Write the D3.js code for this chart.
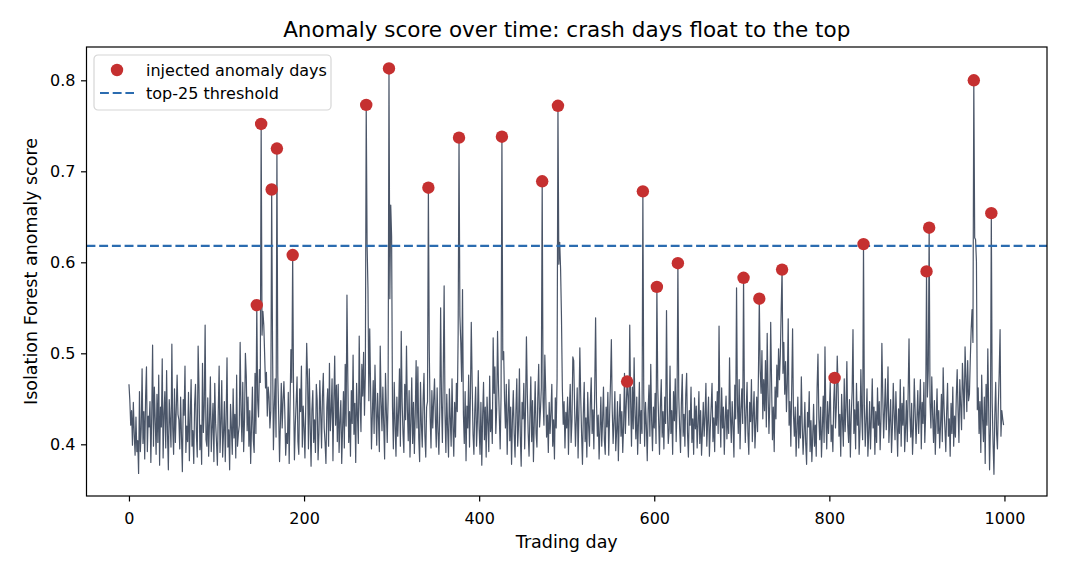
<!DOCTYPE html>
<html>
<head>
<meta charset="utf-8">
<script src="https://cdn.jsdelivr.net/npm/d3@7"></script>
<style>
  body { margin: 0; background: #fff; }
  svg text { font-family: "DejaVu Sans", sans-serif; fill: #000; }
</style>
</head>
<body>
<div id="chart"></div>
<script>
const WIDTH = 1066;
const HEIGHT = 572;

// plot box, in pixels
const LEFT = 86.5, RIGHT = 1047, TOP = 47, BOTTOM = 496;

const TITLE = "Anomaly score over time: crash days float to the top";
const X_LABEL = "Trading day";
const Y_LABEL = "Isolation Forest anomaly score";

const X_TICKS = [0, 200, 400, 600, 800, 1000];
const Y_TICKS = [0.4, 0.5, 0.6, 0.7, 0.8];

const THRESHOLD = 0.618;

// score per trading day (x1000), days 0..999
const scores = [
  466,448,421,437,399,446,412,388,430,392,404,368,458,392,417,483,401,436,384,452,485,392,431,419,447,380,432,509,398,463,427,389,455,402,476,377,441,419,494,385,433,458,396,481,412,372,449,426,397,510,
  418,389,461,402,437,476,433,427,395,452,408,370,449,432,486,391,420,403,457,382,429,471,398,415,379,444,466,411,386,508,462,394,421,378,489,413,442,531,405,398,451,387,426,474,392,418,445,381,467,423,
  402,377,436,486,391,423,470,386,412,447,381,428,495,397,416,372,444,419,389,461,407,433,385,476,398,412,421,512,436,403,468,392,427,500,475,415,452,398,437,379,420,463,405,391,478,412,553,448,430,482,
  468,752,520,546,531,498,462,479,431,463,452,418,437,680,505,394,441,472,408,725,476,433,381,425,467,418,449,469,436,388,412,401,457,379,443,504,468,608,458,383,421,447,474,403,389,461,436,486,397,442,
  418,385,447,511,472,395,483,421,376,438,459,402,427,391,466,448,383,412,470,434,396,453,478,418,402,379,441,461,398,489,415,436,472,382,447,497,421,465,403,466,391,426,448,379,417,458,396,488,420,564,
  471,402,436,387,459,423,498,411,445,380,467,432,401,519,446,414,488,453,501,432,477,773,619,571,448,527,462,395,433,470,412,487,441,399,456,428,392,508,447,415,463,421,384,478,437,402,451,813,560,663,
  628,441,395,468,421,387,452,409,436,483,398,524,447,412,391,466,427,508,438,404,459,386,425,473,401,446,390,433,492,418,485,407,381,468,422,397,449,478,410,386,441,447,682,505,431,396,459,418,447,472,
  428,397,462,414,389,437,550,446,402,478,574,433,391,455,417,386,461,429,398,472,421,387,446,408,467,436,522,737,541,512,469,570,433,401,458,382,442,418,476,397,452,534,468,411,389,437,463,398,425,481,
  417,389,446,377,432,468,405,441,386,452,423,392,475,414,438,401,517,456,485,412,438,524,467,431,395,452,738,493,502,447,418,466,389,432,471,404,441,378,427,459,412,386,437,472,398,421,483,409,376,446,
  428,467,395,441,518,456,412,387,432,474,403,448,381,426,469,412,397,452,488,419,437,462,689,448,421,498,459,408,432,391,446,412,435,466,398,427,384,451,418,472,772,598,622,593,541,463,422,447,396,435,
  418,452,389,437,466,402,425,496,492,441,398,427,462,385,439,506,452,411,378,434,468,403,429,386,457,421,398,445,473,412,438,395,461,539,447,409,432,384,416,452,398,427,463,405,389,441,419,457,388,432,
  467,515,438,401,426,458,393,414,447,382,428,455,409,436,391,421,478,412,443,469,452,421,531,447,398,463,417,495,433,406,452,389,425,468,401,437,412,678,455,398,446,421,382,437,465,409,488,426,393,441,
  418,456,401,573,462,427,389,441,471,408,436,395,452,423,547,438,401,417,486,412,437,389,458,426,472,403,441,599,452,418,391,446,477,409,433,398,455,478,412,386,437,421,463,402,428,389,451,417,442,396,
  423,458,401,437,388,414,446,409,431,467,398,425,452,387,418,441,467,403,429,392,447,421,458,412,530,436,397,462,418,441,389,427,453,406,438,412,495,431,402,447,419,386,465,428,572,443,412,471,395,438,
  461,423,583,447,402,437,468,412,389,446,425,471,403,433,458,396,421,452,414,478,560,481,456,503,428,471,437,492,419,522,456,412,447,534,468,405,441,392,463,428,487,452,505,471,498,548,592,478,512,455,
  491,436,468,538,421,447,398,462,527,433,409,441,387,418,452,396,431,407,474,423,389,412,446,401,378,435,419,458,392,426,381,409,444,398,421,387,462,499,428,405,441,386,418,453,402,507,431,395,447,412,
  436,468,403,421,392,447,473,418,441,497,462,409,433,387,455,426,398,472,414,439,491,421,402,449,386,431,458,526,412,438,395,467,421,447,389,416,482,431,405,620,443,398,426,461,387,412,447,395,429,472,
  418,441,389,436,402,462,421,447,394,428,511,453,407,438,472,416,441,485,402,426,449,391,418,467,434,405,458,422,387,439,412,471,398,445,421,463,392,417,448,403,456,516,431,408,445,389,418,472,436,401,
  427,459,412,438,471,395,446,423,468,402,433,590,452,481,638,446,418,474,431,402,448,389,426,461,412,437,396,421,455,403,484,441,418,392,436,467,409,428,387,445,412,463,398,431,408,452,482,436,402,471,
  443,416,489,461,428,507,474,436,492,448,455,494,527,548,512,800,627,625,601,438,462,412,447,391,476,428,403,452,379,466,421,505,437,372,419,654,446,401,367,432,468,412,395,442,478,526,409,437,428,421
];

// injected anomaly days and their scores
const anomalyDays = [146, 151, 163, 169, 187, 271, 297, 342, 377, 426, 472, 490, 569, 587, 603, 627, 702, 720, 746, 806, 839, 911, 914, 965, 985];
const anomalyScores = [0.553, 0.752, 0.680, 0.725, 0.608, 0.773, 0.813, 0.682, 0.737, 0.738, 0.689, 0.772, 0.469, 0.678, 0.573, 0.599, 0.583, 0.560, 0.592, 0.473, 0.620, 0.590, 0.638, 0.800, 0.654];

const LINE_COLOR = "#4a5568";
const DOT_COLOR = "#c53030";
const THRESH_COLOR = "#2b6cb0";
const DASH = "8.9,3.8";

const series = scores.map((v, i) => ({ day: i, score: v / 1000 }));
const anomalies = anomalyDays.map((d, i) => ({ day: d, score: anomalyScores[i] }));

const x = d3.scaleLinear().domain([-48.5, 1048.6]).range([LEFT, RIGHT]);
const y = d3.scaleLinear().domain([0.3432, 0.8366]).range([BOTTOM, TOP]);

const svg = d3.select("#chart").append("svg")
  .attr("width", WIDTH).attr("height", HEIGHT);

// the series line
svg.append("path")
  .datum(series)
  .attr("fill", "none")
  .attr("stroke", LINE_COLOR)
  .attr("stroke-width", 1.2)
  .attr("stroke-linejoin", "round")
  .attr("d", d3.line().x(d => x(d.day)).y(d => y(d.score)));

// threshold
svg.append("line")
  .attr("x1", LEFT).attr("x2", RIGHT)
  .attr("y1", y(THRESHOLD)).attr("y2", y(THRESHOLD))
  .attr("stroke", THRESH_COLOR)
  .attr("stroke-width", 2.2)
  .attr("stroke-dasharray", DASH);

// anomaly dots
svg.selectAll(".dot").data(anomalies).enter()
  .append("circle")
  .attr("class", "dot")
  .attr("cx", d => x(d.day))
  .attr("cy", d => y(d.score))
  .attr("r", 6.2)
  .attr("fill", DOT_COLOR);

// axes
const xAxis = svg.append("g")
  .attr("transform", `translate(0,${BOTTOM})`)
  .call(d3.axisBottom(x).tickValues(X_TICKS).tickSize(5.5).tickPadding(11).tickFormat(d3.format("d")));
const yAxis = svg.append("g")
  .attr("transform", `translate(${LEFT},0)`)
  .call(d3.axisLeft(y).tickValues(Y_TICKS).tickSize(5.5).tickPadding(5.5).tickFormat(d3.format(".1f")));

[xAxis, yAxis].forEach(g => {
  g.select(".domain").remove();
  g.selectAll("line").attr("stroke", "#000").attr("stroke-width", 1.2);
  g.selectAll("text").style("font-size", "16px").attr("fill", "#000");
});

// frame
svg.append("rect")
  .attr("x", LEFT).attr("y", TOP)
  .attr("width", RIGHT - LEFT).attr("height", BOTTOM - TOP)
  .attr("fill", "none").attr("stroke", "#000").attr("stroke-width", 1.2);

// texts
svg.append("text")
  .attr("x", (LEFT + RIGHT) / 2).attr("y", 37)
  .attr("text-anchor", "middle")
  .style("font-size", "21.5px")
  .text(TITLE);

svg.append("text")
  .attr("x", (LEFT + RIGHT) / 2).attr("y", 548)
  .attr("text-anchor", "middle")
  .style("font-size", "17.5px")
  .text(X_LABEL);

svg.append("text")
  .attr("transform", `translate(37,${(TOP + BOTTOM) / 2}) rotate(-90)`)
  .attr("text-anchor", "middle")
  .style("font-size", "17.5px")
  .text(Y_LABEL);

// legend
const legend = svg.append("g").attr("transform", "translate(94,55)");
legend.append("rect")
  .attr("width", 237).attr("height", 55)
  .attr("rx", 4)
  .attr("fill", "#fff").attr("fill-opacity", 0.8)
  .attr("stroke", "#d6d6d6").attr("stroke-width", 1.2);
legend.append("circle")
  .attr("cx", 23).attr("cy", 15).attr("r", 6.2).attr("fill", DOT_COLOR);
legend.append("line")
  .attr("x1", 6).attr("x2", 40).attr("y1", 38).attr("y2", 38)
  .attr("stroke", THRESH_COLOR).attr("stroke-width", 2.2)
  .attr("stroke-dasharray", DASH);
legend.append("text").attr("x", 52).attr("y", 21)
  .style("font-size", "16px").text("injected anomaly days");
legend.append("text").attr("x", 52).attr("y", 44)
  .style("font-size", "16px").text("top-25 threshold");
</script>
</body>
</html>
